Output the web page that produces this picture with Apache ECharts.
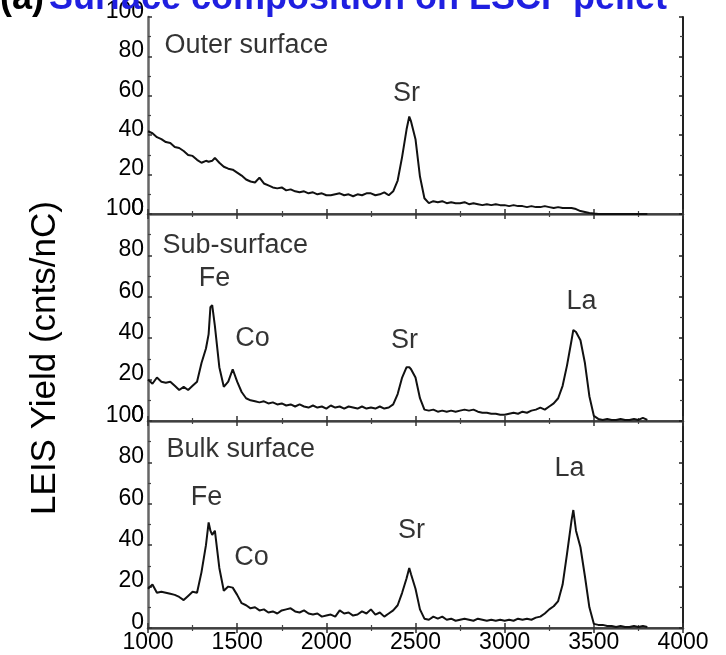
<!DOCTYPE html>
<html>
<head>
<meta charset="utf-8">
<title>LEIS spectra</title>
<script src="https://cdn.jsdelivr.net/npm/echarts@6/dist/echarts.min.js"></script>
<style>
  html, body { margin: 0; padding: 0; background: #fff; }
  #main { width: 726px; height: 655px; }
</style>
</head>
<body>
<div id="main"></div>
<script>
// energy (eV)
const energy = [
  1000, 1025, 1050, 1075, 1100, 1125, 1150, 1175, 1200, 1225,
  1250, 1275, 1300, 1325, 1340, 1350, 1360, 1375, 1400, 1425,
  1450, 1475, 1500, 1525, 1550, 1575, 1600, 1625, 1650, 1675,
  1700, 1725, 1750, 1775, 1800, 1825, 1850, 1875, 1900, 1925,
  1950, 1975, 2000, 2025, 2050, 2075, 2100, 2125, 2150, 2175,
  2200, 2225, 2250, 2275, 2300, 2325, 2350, 2375, 2400, 2425,
  2450, 2465, 2475, 2500, 2525, 2550, 2575, 2600, 2625, 2650,
  2675, 2700, 2725, 2750, 2775, 2800, 2825, 2850, 2875, 2900,
  2925, 2950, 2975, 3000, 3025, 3050, 3075, 3100, 3125, 3150,
  3175, 3200, 3225, 3250, 3275, 3300, 3325, 3350, 3375, 3385,
  3400, 3425, 3450, 3475, 3500, 3525, 3550, 3575, 3600, 3625,
  3650, 3675, 3700, 3725, 3750, 3775, 3800
];

// LEIS yield (cnts/nC)
const outerYield = [
  42, 41, 39, 38, 36.5, 36, 34, 33.5, 32, 30,
  29.5, 27.5, 26, 27, 26.5, 26, 27, 28.5, 26, 24,
  23, 22.5, 21, 19.5, 17.5, 16.5, 16, 18.5, 15.5, 14.5,
  13.5, 13, 13.5, 12, 12.5, 11.5, 11, 11.5, 10.5, 11,
  10, 10.5, 9.5, 9.5, 10, 10.5, 9.5, 10, 9, 10,
  9.5, 10.5, 10.5, 9.5, 10, 11, 9.5, 11.5, 17, 29,
  43, 49.5, 47, 38, 19, 8, 5.5, 6.5, 6, 6.5,
  5.5, 6, 5.5, 5.5, 6, 5, 5.5, 5, 4.5, 5,
  4.5, 5, 4.5, 4.5, 4, 4.5, 4, 4, 3.5, 4,
  3.5, 3.5, 4, 3.5, 3, 3.5, 3, 3, 3, 3,
  2.5, 1.5, 1, 0.5, 0.2, 0, 0, 0, 0, 0,
  0, 0, 0, 0, 0, 0, 0
];
const subYield = [
  20, 18, 21, 19, 18.5, 19, 17, 15, 16.5, 15,
  17, 19, 28, 35, 42, 55, 56, 46, 26, 16.5,
  19, 25, 19, 14, 11, 10, 9.5, 9, 9.5, 8.5,
  9, 8, 8.5, 7.5, 8, 7, 8, 7, 6.5, 7.5,
  6.5, 7, 6, 7.5, 6.5, 7, 6, 7, 6.5, 6,
  7, 6, 6.5, 6, 7, 6, 6.5, 8, 13, 21,
  26, 26, 25, 21, 11, 5.5, 5, 5.5, 4.5, 5,
  4.5, 5, 4.5, 5, 5.5, 5, 5.5, 4.5, 4, 4,
  3.5, 3.5, 3, 3, 3.5, 4, 3.5, 4.5, 4, 5,
  5.5, 6.5, 5.5, 7, 8.5, 11, 17, 27, 39, 44,
  43, 39, 28, 12, 2.5, 1, 0.5, 1, 0.5, 0.5,
  1, 0.5, 0.5, 1, 0.5, 1.5, 0.5
];
const bulkYield = [
  19, 21, 17, 17.5, 17, 16.5, 16, 15, 13.5, 15.5,
  17.5, 17, 27, 40, 51, 47, 45, 47, 29, 18,
  20, 19.5, 16, 12, 11, 9.5, 10, 8.5, 9, 7.5,
  8, 7, 8.5, 9, 9.5, 8, 7.5, 8.5, 7, 6.5,
  7, 5.5, 6, 6.5, 5.5, 8.5, 7, 7.5, 6, 6.5,
  8, 7, 9, 6.5, 7.5, 5.5, 7, 8.5, 11, 17,
  24, 29, 26, 19, 9, 4.5, 4, 5.5, 4.5, 5.5,
  4, 4.5, 3.5, 4, 4.5, 4, 3.5, 4.5, 4, 3.5,
  4, 3.5, 4, 3.5, 4, 3.5, 4.5, 4, 4.5, 4,
  5, 5.5, 7, 9, 10.5, 13, 21, 36, 52, 57,
  47, 39, 25, 10, 2, 1.5, 1.5, 1, 1, 0.5,
  1, 0.5, 0.5, 1, 0.5, 1, 0.5
];

// panel names and peak labels: [energy, yield, text]
const panelNames = [
  [1093, 85.5, 'Outer surface'],
  [1081, 85, 'Sub-surface'],
  [1104, 86, 'Bulk surface']
];
const outerPeaks = [[2449, 61, 'Sr']];
const subPeaks = [[1373, 69, 'Fe'], [1586, 40, 'Co'], [2438, 39, 'Sr'], [3431, 57.5, 'La']];
const bulkPeaks = [[1328, 63, 'Fe'], [1580, 34, 'Co'], [2477, 47, 'Sr'], [3363, 77, 'La']];

const xTicks = [1000, 1500, 2000, 2500, 3000, 3500, 4000];
const yTicks = [0, 20, 40, 60, 80, 100];

var chartDom = document.getElementById('main');
var myChart = echarts.init(chartDom);
var option;

var font = 'Liberation Sans, Arial, sans-serif';
var spectra = [outerYield, subYield, bulkYield];
var peaks = [outerPeaks, subPeaks, bulkPeaks];
var tops = [7, 214, 421];

var grids = [], xAxes = [], yAxes = [], series = [];

tops.forEach(function (t, i) {
    grids.push({ left: 148, right: 43, top: t, height: 207, show: false });

    var tickX = {
        inside: true, length: 5, lineStyle: { color: '#333', width: 1.5 }
    };
    // bottom and top x axes
    xAxes.push({
        gridIndex: i, type: 'value', position: 'bottom',
        min: xTicks[0], max: xTicks[xTicks.length - 1], interval: 500,
        axisLine: { lineStyle: { color: '#666', width: 2.5 } },
        axisTick: tickX,
        minorTick: { show: true, splitNumber: 2, length: 3, lineStyle: { color: '#444', width: 1.2 } },
        splitLine: { show: false },
        axisLabel: {
            show: i === 2, fontSize: 23, color: '#000', fontFamily: font, margin: 3,
            formatter: function (v) { return String(v); }
        }
    });
    xAxes.push({
        gridIndex: i, type: 'value', position: 'top',
        min: xTicks[0], max: xTicks[xTicks.length - 1], interval: 500,
        axisLine: { lineStyle: { color: '#333', width: 1.5 } },
        axisTick: tickX,
        minorTick: { show: true, splitNumber: 2, length: 3, lineStyle: { color: '#444', width: 1.2 } },
        splitLine: { show: false },
        axisLabel: { show: false }
    });
    // left and right y axes
    yAxes.push({
        gridIndex: i, type: 'value', position: 'left',
        min: yTicks[0], max: yTicks[yTicks.length - 1], interval: 20,
        axisLine: { show: true, lineStyle: { color: '#666', width: 2.5 } },
        axisTick: { show: true, inside: true, length: 4, lineStyle: { color: '#333', width: 1.5 } },
        minorTick: { show: true, splitNumber: 2, length: 3, lineStyle: { color: '#444', width: 1.2 } },
        splitLine: { show: false },
        axisLabel: {
            fontSize: 23, color: '#000', fontFamily: font, margin: 4,
            verticalAlign: 'bottom', lineHeight: 11
        }
    });
    yAxes.push({
        gridIndex: i, type: 'value', position: 'right',
        min: yTicks[0], max: yTicks[yTicks.length - 1], interval: 20,
        axisLine: { show: true, lineStyle: { color: '#222', width: 2 } },
        axisTick: { show: true, inside: true, length: 4, lineStyle: { color: '#222', width: 1.5 } },
        minorTick: { show: true, splitNumber: 2, length: 3, lineStyle: { color: '#444', width: 1.2 } },
        splitLine: { show: false },
        axisLabel: { show: false }
    });

    series.push({
        type: 'line',
        xAxisIndex: 2 * i, yAxisIndex: 2 * i,
        showSymbol: false,
        lineStyle: { color: '#111', width: 2 },
        data: energy.map(function (e, k) { return [e, spectra[i][k]]; }),
        z: 3
    });

    var labels = [{
        value: [panelNames[i][0], panelNames[i][1]], name: panelNames[i][2],
        label: { align: 'left' }
    }];
    peaks[i].forEach(function (p) {
        labels.push({ value: [p[0], p[1]], name: p[2] });
    });
    series.push({
        type: 'scatter',
        xAxisIndex: 2 * i, yAxisIndex: 2 * i,
        symbolSize: 0,
        silent: true,
        label: {
            show: true, position: 'inside', formatter: '{b}',
            fontSize: 27, color: '#000', fontFamily: font
        },
        data: labels,
        z: 5
    });
});

option = {
    backgroundColor: '#fff',
    animation: false,
    title: {
        text: '{a|(a)} {b|Surface composition on LSCF pellet}',
        left: 0,
        top: -19,
        padding: 0,
        textStyle: {
            rich: {
                a: { fontSize: 36, fontWeight: 'bold', color: '#000', fontFamily: font, lineHeight: 36 },
                b: { fontSize: 36, fontWeight: 'bold', color: '#1f1fe0', fontFamily: font, lineHeight: 36 }
            }
        }
    },
    grid: grids,
    xAxis: xAxes,
    yAxis: yAxes,
    graphic: [{
        type: 'text',
        x: 45, y: 358,
        rotation: Math.PI / 2,
        style: {
            text: 'LEIS Yield (cnts/nC)',
            fontSize: 35, fontFamily: font, fill: '#000',
            align: 'center', verticalAlign: 'middle'
        }
    }],
    series: series
};

option && myChart.setOption(option);
</script>
</body>
</html>
